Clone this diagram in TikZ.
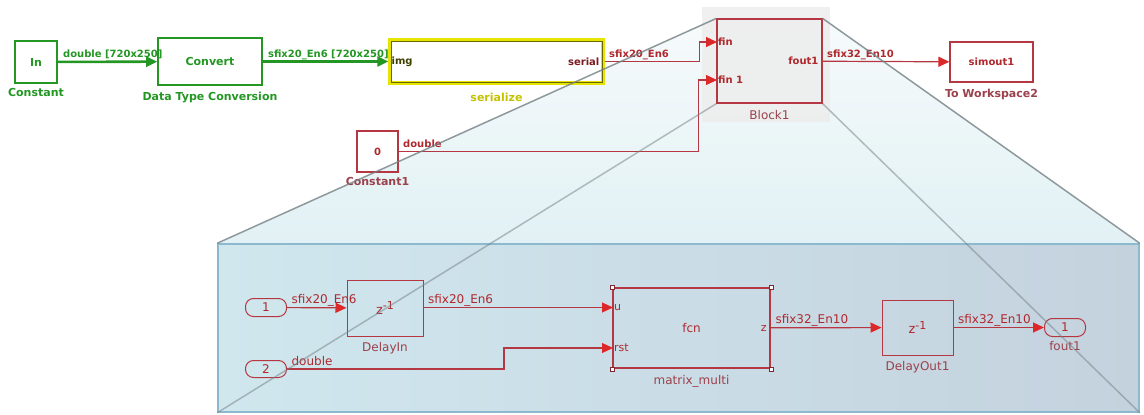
\documentclass[tikz,border=0pt]{standalone}
\usepackage{fontspec}
\setmainfont{DejaVu Sans}
\usepackage{tikz}
\usetikzlibrary{arrows.meta, positioning, calc}
\pgfdeclarelayer{background}
\pgfdeclarelayer{lower}
\pgfsetlayers{background,lower,main}
\definecolor{simgreen}{RGB}{35,150,35}
\definecolor{simred}{RGB}{180,55,65}
\definecolor{arrowred}{RGB}{220,40,40}
\definecolor{txtred}{RGB}{175,40,45}
\definecolor{capred}{RGB}{155,65,75}
\definecolor{seryellow}{RGB}{230,228,0}
\definecolor{serolive}{RGB}{105,105,0}
\definecolor{hullcyan}{RGB}{208,232,238}
\definecolor{faceleft}{RGB}{208,231,238}
\definecolor{faceright}{RGB}{196,210,222}
\definecolor{faceedge}{RGB}{140,185,205}
\definecolor{edgegray}{RGB}{115,128,132}
\tikzset{
	blk_green/.style={rectangle, draw=simgreen, line width=1.6pt, fill=white, text=simgreen, font=\fontsize{11}{13}\selectfont\bfseries, inner sep=0pt},
	blk_red/.style={rectangle, draw=simred, line width=1.2pt, text=txtred, font=\fontsize{10}{12}\selectfont\bfseries, inner sep=0pt},
	blk_sub/.style={rectangle, draw=simred, line width=1pt, text=txtred, font=\fontsize{12}{14}\selectfont, inner sep=0pt},
	blk_port/.style={rectangle, rounded corners=8pt, draw=simred, line width=1pt, text=txtred, font=\fontsize{12}{14}\selectfont, inner sep=0pt, minimum width=41pt, minimum height=18pt},
	blk_handle/.style={rectangle, draw=simred!70!black, fill=white, line width=0.6pt, minimum size=4pt, inner sep=0pt},
	cap_green/.style={text=simgreen, font=\fontsize{11}{13}\selectfont\bfseries, inner sep=1pt},
	cap_red/.style={text=capred, font=\fontsize{11}{13}\selectfont\bfseries, inner sep=1pt},
	cap_sub/.style={text=capred, font=\fontsize{12}{14}\selectfont, inner sep=1pt},
	port_lbl/.style={text=txtred, font=\fontsize{10}{12}\selectfont\bfseries, inner sep=1pt},
	port_sub/.style={text=txtred, font=\fontsize{11}{13}\selectfont, inner sep=1pt},
	lbl_green/.style={text=simgreen, font=\fontsize{10}{12}\selectfont\bfseries, inner sep=0pt, anchor=base west, xshift=4pt, yshift=4pt},
	lbl_red/.style={text=txtred, font=\fontsize{10}{12}\selectfont\bfseries, inner sep=0pt, anchor=base west, xshift=4pt, yshift=4pt},
	lbl_sub/.style={text=txtred, font=\fontsize{12}{14}\selectfont, inner sep=0pt, anchor=base west, xshift=4pt, yshift=4pt},
	sig_green/.style={draw=simgreen, line width=2.6pt, -{Triangle[length=11pt,width=10pt]}},
	sig_red/.style={draw=simred, line width=1.2pt, -{Triangle[length=11pt,width=10pt,color=arrowred]}},
	zoom_edge/.style={draw=edgegray, line width=1.5pt, opacity=0.8}
}
\newcommand{\zinv}{\fontsize{13}{15}\selectfont z\raisebox{0.6ex}{\fontsize{11}{13}\selectfont -1}}

\begin{document}
\begin{tikzpicture}[x=1pt, y=-1pt]
	\useasboundingbox (0,0) rectangle (1144,415);
	% top level model
	\node[blk_green, minimum width=42pt, minimum height=42pt] (const) at (36,62) {In};
	\node[blk_green, minimum width=104pt, minimum height=47pt] (conv) at (210,61.5) {Convert};
	\node[rectangle, draw=seryellow, line width=3.2pt, fill=white, minimum width=213pt, minimum height=43pt] (ser) at (496.5,61.5) {};
	\draw[serolive, line width=0.8pt] ($(ser.north west)+(2.5,2.5)$) rectangle ($(ser.south east)+(-2.5,-2.5)$);
	\node[font=\fontsize{10}{12}\selectfont\bfseries, text=serolive!60!black, anchor=west, inner sep=3pt] (serimg) at (ser.west) {img};
	\node[font=\fontsize{10}{12}\selectfont\bfseries, text=txtred!70!black, anchor=east, inner sep=5pt] (serout) at (ser.east) {serial};
	\node[blk_red, minimum width=41pt, minimum height=41pt] (const1) at (377.5,151.5) {0};
	\node[blk_red, minimum width=105pt, minimum height=84pt] (blk1) at (769.5,61) {};
	\node[blk_red, minimum width=83pt, minimum height=40pt] (simout) at (991.5,62) {simout1};
	\coordinate (fin) at (717,42);
	\coordinate (fin1) at (717,80);
	\node[port_lbl, anchor=west] (finl) at (fin) {fin};
	\node[port_lbl, anchor=west] (fin1l) at (fin1) {fin 1};
	\node[port_lbl, anchor=east, inner sep=4pt] (foutl) at (blk1.east) {fout1};

	\begin{pgfonlayer}{background}
		\node[rectangle, minimum width=921pt, minimum height=168pt, inner sep=0pt] (zoom) at (678.5,328) {};
		\shade[top color=white!80!hullcyan, bottom color=hullcyan, opacity=0.95] (blk1.north west) -- (blk1.north east) -- (zoom.north east) -- (zoom.south east) -- (zoom.south west) -- (zoom.north west) -- cycle;
		\fill[gray!14, opacity=0.85] (702,7) rectangle (830,122);
	\end{pgfonlayer}

	\node[cap_green, below=3pt of const] (constcap) {Constant};
	\node[cap_green, below=5pt of conv] (convcap) {Data Type Conversion};
	\node[cap_green, text=seryellow!85!black, below=7pt of ser] (sercap) {serialize};
	\node[cap_red, below=4pt of const1] (const1cap) {Constant1};
	\node[cap_sub, below=6pt of blk1] (blk1cap) {Block1};
	\node[cap_red, below=5pt of simout] (simoutcap) {To Workspace2};

	\draw[sig_green] (const) -- node[lbl_green, pos=0] {double [720x250]} (conv);
	\draw[sig_green] (conv) -- node[lbl_green, pos=0] {sfix20\_En6 [720x250]} (ser.west |- conv);
	\draw[sig_red] (ser.east) -- node[lbl_red, pos=0] {sfix20\_En6} ++(95,0) |- (fin);
	\draw[sig_red] (const1.east) -- node[lbl_red, pos=0] {double} ++(300,0) |- (fin1);
	\draw[sig_red] (blk1) -- node[lbl_red, pos=0] {sfix32\_En10} (simout);

	% zoomed subsystem
	\node[rectangle, draw=faceedge, line width=1.5pt, left color=faceleft, right color=faceright, minimum width=921pt, minimum height=168pt, inner sep=0pt] (face) at (678.5,328) {};
	\node[blk_port] (in1) at (266,307.5) {1};
	\node[blk_port, minimum height=17pt] (in2) at (266,369) {2};
	\node[blk_sub, minimum width=76pt, minimum height=56pt] (dlyin) at (385,308) {\zinv};
	\node[blk_sub, line width=1.8pt, minimum width=157pt, minimum height=80pt] (mm) at (691.5,328) {fcn};
	\node[blk_sub, minimum width=71pt, minimum height=55pt] (dlyout) at (917.5,327.5) {\zinv};
	\node[blk_port] (out1) at (1065,327.5) {1};
	\foreach \c in {north west, north east, south west, south east}
		\node[blk_handle] (h-\c) at (mm.\c) {};
	\coordinate (mmu) at (613,307.5);
	\coordinate (mmrst) at (613,348);
	\node[port_sub, anchor=west] (ul) at (mmu) {u};
	\node[port_sub, anchor=west] (rstl) at (mmrst) {rst};
	\node[port_sub, anchor=east, inner sep=4pt] (zl) at (mm.east) {z};

	\node[cap_sub, below=5pt of dlyin] (dlyincap) {DelayIn};
	\node[cap_sub, below=5pt of mm] (mmcap) {matrix\_multi};
	\node[cap_sub, below=5pt of dlyout] (dlyoutcap) {DelayOut1};
	\node[cap_sub, below=3pt of out1] (out1cap) {fout1};

	\draw[sig_red] (in1) -- node[lbl_sub, pos=0] {sfix20\_En6} (dlyin);
	\draw[sig_red] (dlyin.east |- mmu) -- node[lbl_sub, pos=0] {sfix20\_En6} (mmu);
	\draw[sig_red] (in2.east) -- node[lbl_sub, pos=0] {double} ++(217,0) |- (mmrst);
	\draw[sig_red] (mm) -- node[lbl_sub, pos=0] {sfix32\_En10} (dlyout);
	\draw[sig_red] (dlyout) -- node[lbl_sub, pos=0] {sfix32\_En10} (out1);

	% projection edges
	\draw[zoom_edge] (blk1.north west) -- (face.north west);
	\draw[zoom_edge] (blk1.north east) -- (face.north east);
	\draw[zoom_edge, opacity=0.5] (blk1.south west) -- (face.south west);
	\draw[zoom_edge, opacity=0.5] (blk1.south east) -- (face.south east);
\end{tikzpicture}
\end{document}
